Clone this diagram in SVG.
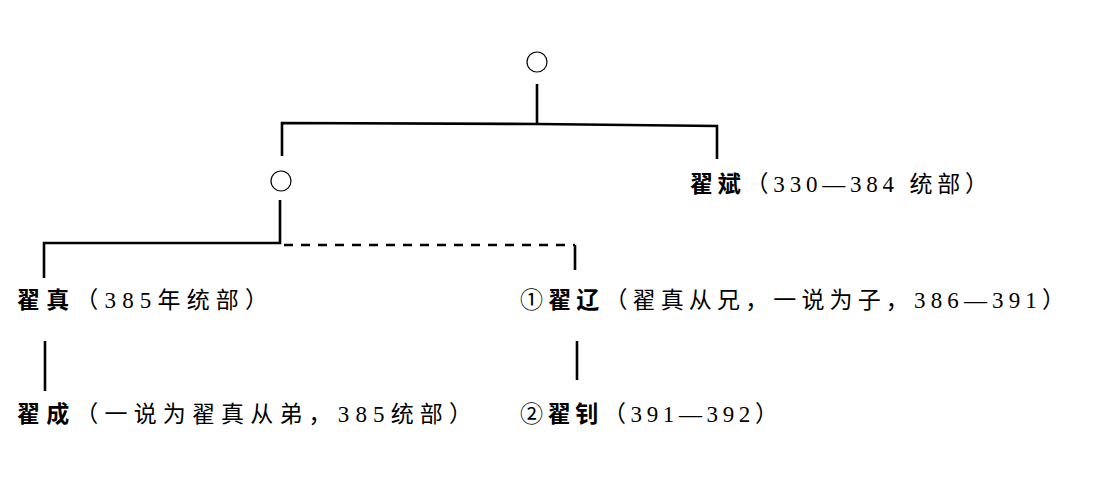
<svg xmlns="http://www.w3.org/2000/svg" width="1110" height="490" viewBox="0 0 1110 490">
<style>
.bg{fill:#fff}
.c{fill:none;stroke:#000;stroke-width:1.2}
.ln{fill:none;stroke:#000;stroke-width:2.6}
.ds{fill:none;stroke:#000;stroke-width:2.4;stroke-dasharray:9 8}
.t{font-family:"Liberation Serif","Noto Sans CJK SC",serif;font-size:23px;fill:#000}
.b{font-weight:bold}
</style>
<rect class="bg" x="0" y="0" width="1110" height="490"/>
<g id="connectors">
<path class="ln" d="M537,84 V124"/>
<path class="ln" d="M282,156 V123 L537,124 L717,126 V159"/>
<path class="ln" d="M280,200 V243 H44 V278"/>
<path class="ds" d="M284,245 H575"/>
<path class="ln" d="M575,245 V270"/>
<path class="ln" d="M45,341 V391"/>
<path class="ln" d="M577,341 V380"/>
</g>
<g id="n-root"><circle class="c" cx="537" cy="62" r="10"/></g>
<g id="n-unknown"><circle class="c" cx="281" cy="181" r="10"/></g>
<g id="n-zhaibin"><text class="t" x="690" y="192" textLength="298" lengthAdjust="spacing"><tspan class="b">翟斌</tspan>（330—384 统部）</text></g>
<g id="n-zhaizhen"><text class="t" x="17" y="308" textLength="251" lengthAdjust="spacing"><tspan class="b">翟真</tspan>（385年统部）</text></g>
<g id="n-zhailiao"><text class="t" x="520" y="308" textLength="545" lengthAdjust="spacing">①<tspan class="b">翟辽</tspan>（翟真从兄，一说为子，386—391）</text></g>
<g id="n-zhaicheng"><text class="t" x="17" y="422" textLength="455" lengthAdjust="spacing"><tspan class="b">翟成</tspan>（一说为翟真从弟，385统部）</text></g>
<g id="n-zhaizhao"><text class="t" x="520" y="422" textLength="258" lengthAdjust="spacing">②<tspan class="b">翟钊</tspan>（391—392）</text></g>
</svg>
